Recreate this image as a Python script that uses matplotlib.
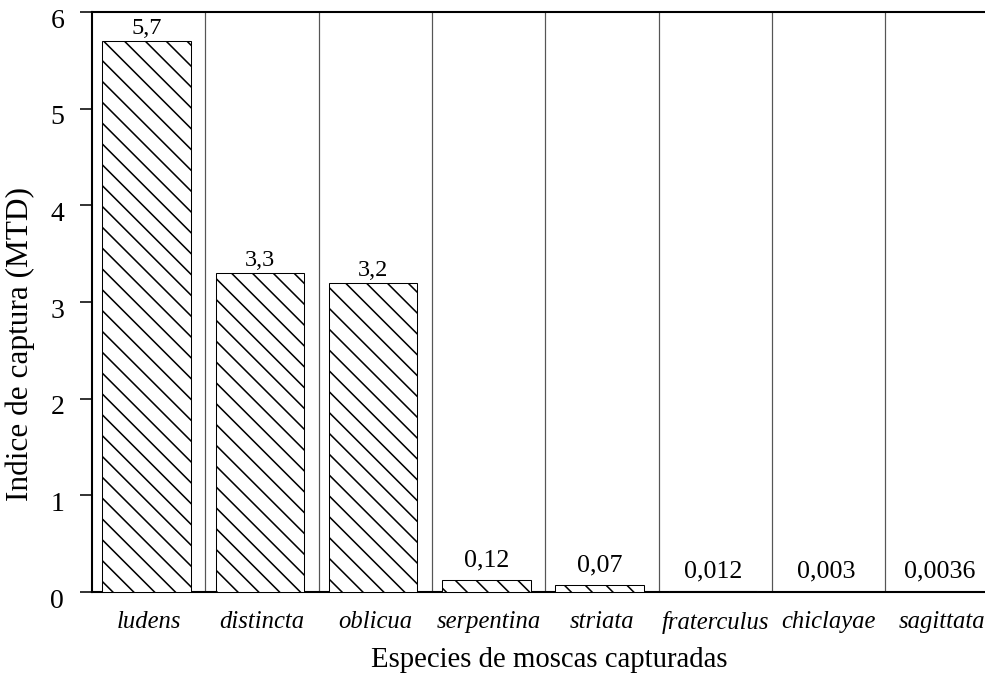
import matplotlib
matplotlib.use("Agg")
import matplotlib.pyplot as plt
from matplotlib.transforms import ScaledTranslation

especies = ["ludens", "distincta", "oblicua", "serpentina", "striata",
            "fraterculus", "chiclayae", "sagittata"]
indice = [5.7, 3.3, 3.2, 0.12, 0.07, 0.012, 0.003, 0.0036]
etiquetas = ["5,7", "3,3", "3,2", "0,12", "0,07", "0,012", "0,003", "0,0036"]

plt.rcParams['font.family'] = ['Liberation Serif', 'DejaVu Serif']
plt.rcParams['hatch.linewidth'] = 0.9
plt.rcParams['hatch.color'] = 'black'

fig = plt.figure(figsize=(7.88, 5.432), dpi=125)
ax = fig.add_axes([0.0934, 0.1281, 0.9066, 0.8542])

x = [i - 0.02 for i in range(len(especies))]
ax.bar(x, indice, width=0.78, color='white', edgecolor='black',
       linewidth=0.6, hatch='\\\\', zorder=3)

# lineas separadoras entre especies
for i in range(len(especies) - 1):
    ax.axvline(i + 0.5, color='#555555', linewidth=0.7, zorder=1)

for xi, v, t in zip(x, indice, etiquetas):
    if v > 1:
        ax.annotate(t, (xi, v), xytext=(0, 4), textcoords='offset points',
                    ha='center', va='baseline', fontsize=14)
    else:
        ax.annotate(t, (xi, v), xytext=(0, 8), textcoords='offset points',
                    ha='center', va='baseline', fontsize=15)

ax.set_xlim(-0.5, 7.38)
ax.set_ylim(0, 6)
ax.set_yticks(range(7))
ax.set_xticks(range(len(especies)))
ax.set_xticklabels(especies, style='italic', fontsize=14.2)
ax.tick_params(axis='y', direction='out', length=7, width=0.9,
               labelsize=16, pad=9)
ax.tick_params(axis='x', length=0, pad=11)

# numeros del eje y un poco por debajo de su marca
bajar = ScaledTranslation(0, -6 / 125, fig.dpi_scale_trans)
for lab in ax.get_yticklabels():
    lab.set_transform(lab.get_transform() + bajar)

ax.spines['right'].set_visible(False)
for s in ['left', 'top', 'bottom']:
    ax.spines[s].set_linewidth(1.2)

ax.set_xlabel("Especies de moscas capturadas", fontsize=16.6)
ax.set_ylabel("Indice de captura (MTD)", fontsize=18)
ax.xaxis.set_label_coords(0.512, -0.095)
ax.yaxis.set_label_coords(-0.064, 0.428)

fig.savefig("out.png", dpi=125)
